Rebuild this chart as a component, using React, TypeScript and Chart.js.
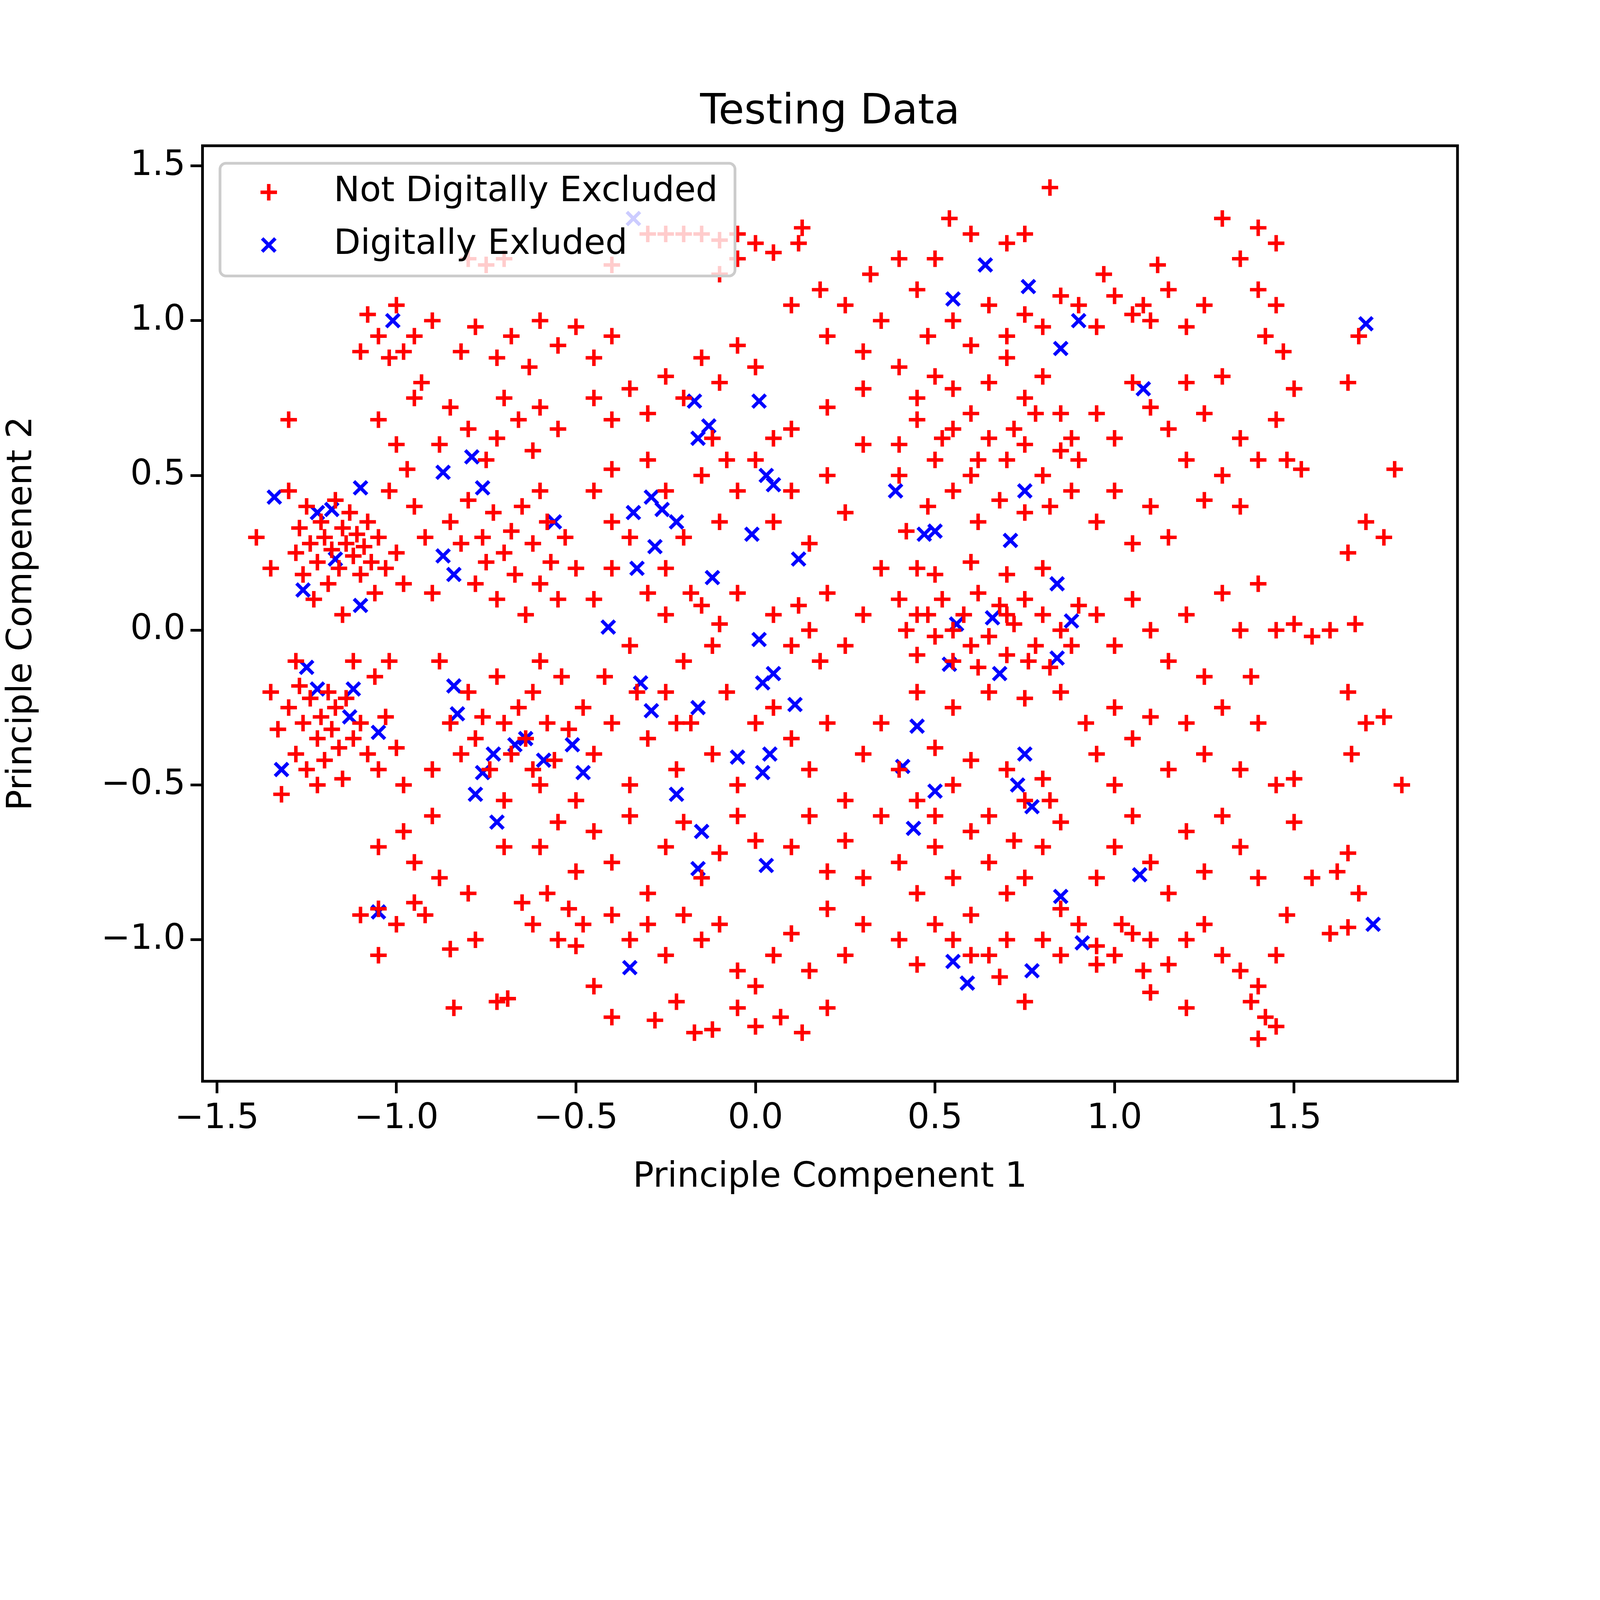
import { useEffect, useRef } from "react"
import { Chart, registerables } from "chart.js"

Chart.register(...registerables)

// Principal component coordinates
const notExcluded: [number, number][] = [
  [-1.39, 0.3], [-1.35, 0.2], [-1.3, 0.68], [-1.3, 0.45], [-1.28, 0.25], [-1.27, 0.33], [-1.26, 0.18], [-1.25, 0.4], [-1.24, 0.28], [-1.22, 0.22],
  [-1.21, 0.35], [-1.2, 0.3], [-1.19, 0.15], [-1.18, 0.26], [-1.17, 0.42], [-1.16, 0.2], [-1.15, 0.33], [-1.14, 0.28], [-1.13, 0.38], [-1.12, 0.24],
  [-1.11, 0.31], [-1.1, 0.18], [-1.09, 0.27], [-1.08, 0.35], [-1.07, 0.22], [-1.06, 0.12], [-1.05, 0.3], [-1.03, 0.2], [-1.0, 0.25], [-0.98, 0.15],
  [-1.35, -0.2], [-1.33, -0.32], [-1.3, -0.25], [-1.28, -0.4], [-1.27, -0.18], [-1.26, -0.3], [-1.25, -0.45], [-1.24, -0.22], [-1.22, -0.35], [-1.21, -0.28],
  [-1.2, -0.42], [-1.19, -0.2], [-1.18, -0.32], [-1.17, -0.25], [-1.16, -0.38], [-1.15, -0.48], [-1.14, -0.22], [-1.12, -0.35], [-1.1, -0.3], [-1.08, -0.4],
  [-1.06, -0.15], [-1.05, -0.45], [-1.03, -0.28], [-1.02, -0.1], [-1.0, -0.38], [-0.98, -0.5], [-1.32, -0.53], [-1.28, -0.1], [-1.22, -0.5], [-1.12, -0.1],
  [-1.08, 1.02], [-1.05, 0.95], [-1.02, 0.88], [-1.0, 1.05], [-0.98, 0.9], [-0.95, 0.95], [-1.1, 0.9], [-0.93, 0.8], [-0.9, 1.0], [-0.95, 0.75],
  [-1.05, 0.68], [-1.0, 0.6], [-0.97, 0.52], [-1.02, 0.45], [-0.95, 0.4], [-1.05, -0.9], [-1.0, -0.95], [-0.95, -0.88], [-0.92, -0.92], [-1.1, -0.92],
  [-1.05, -1.05], [-0.98, -0.65], [-0.95, -0.75], [-1.05, -0.7], [-0.9, -0.6], [-0.88, -0.8], [-0.85, -1.03], [-0.84, -1.22], [-0.8, -0.85], [-0.9, -0.45],
  [-0.85, 0.35], [-0.82, 0.28], [-0.8, 0.42], [-0.78, 0.15], [-0.76, 0.3], [-0.75, 0.22], [-0.73, 0.38], [-0.72, 0.1], [-0.7, 0.25], [-0.68, 0.32],
  [-0.67, 0.18], [-0.65, 0.4], [-0.64, 0.05], [-0.62, 0.28], [-0.6, 0.15], [-0.58, 0.35], [-0.57, 0.22], [-0.55, 0.1], [-0.53, 0.3], [-0.5, 0.2],
  [-0.85, -0.3], [-0.82, -0.4], [-0.8, -0.2], [-0.78, -0.35], [-0.76, -0.28], [-0.74, -0.45], [-0.72, -0.15], [-0.7, -0.3], [-0.68, -0.4], [-0.66, -0.25],
  [-0.64, -0.35], [-0.62, -0.2], [-0.6, -0.5], [-0.58, -0.3], [-0.56, -0.42], [-0.54, -0.15], [-0.52, -0.32], [-0.5, -0.55], [-0.48, -0.25], [-0.45, -0.4],
  [-0.88, 0.6], [-0.85, 0.72], [-0.8, 0.65], [-0.75, 0.55], [-0.72, 0.62], [-0.7, 0.75], [-0.66, 0.68], [-0.62, 0.58], [-0.6, 0.72], [-0.55, 0.65],
  [-0.82, 0.9], [-0.78, 0.98], [-0.72, 0.88], [-0.68, 0.95], [-0.63, 0.85], [-0.6, 1.0], [-0.55, 0.92], [-0.5, 0.98], [-0.45, 0.88], [-0.4, 0.95],
  [-0.8, 1.2], [-0.75, 1.18], [-0.7, 1.2], [-0.4, 1.18], [-0.3, 1.28], [-0.25, 1.28], [-0.2, 1.28], [-0.15, 1.28], [-0.1, 1.26], [-0.05, 1.2],
  [-0.05, 1.28], [0.0, 1.25], [0.05, 1.22], [0.12, 1.25], [0.13, 1.3], [-0.1, 1.15],
  [-0.45, 0.75], [-0.4, 0.68], [-0.35, 0.78], [-0.3, 0.7], [-0.25, 0.82], [-0.2, 0.75], [-0.15, 0.88], [-0.1, 0.8], [-0.05, 0.92], [0.0, 0.85],
  [-0.45, 0.45], [-0.4, 0.52], [-0.35, 0.3], [-0.3, 0.55], [-0.25, 0.45], [-0.2, 0.3], [-0.15, 0.5], [-0.1, 0.35], [-0.05, 0.45], [0.0, 0.55],
  [-0.45, 0.1], [-0.4, 0.2], [-0.35, -0.05], [-0.3, 0.12], [-0.25, 0.05], [-0.2, -0.1], [-0.15, 0.08], [-0.12, -0.05], [-0.1, 0.02], [-0.05, 0.12],
  [-0.4, -0.3], [-0.35, -0.5], [-0.3, -0.35], [-0.25, -0.2], [-0.22, -0.45], [-0.18, -0.3], [-0.12, -0.4], [-0.08, -0.2], [-0.05, -0.5], [0.0, -0.3],
  [-0.45, -0.65], [-0.4, -0.75], [-0.35, -0.6], [-0.3, -0.85], [-0.25, -0.7], [-0.2, -0.62], [-0.15, -0.8], [-0.1, -0.72], [-0.05, -0.6], [0.0, -0.68],
  [-0.6, -0.7], [-0.58, -0.85], [-0.55, -0.62], [-0.52, -0.9], [-0.5, -0.78], [-0.65, -0.88], [-0.7, -0.7], [-0.62, -0.95], [-0.55, -1.0], [-0.48, -0.95],
  [-0.4, -0.92], [-0.35, -1.0], [-0.3, -0.95], [-0.25, -1.05], [-0.2, -0.92], [-0.15, -1.0], [-0.1, -0.95], [-0.05, -1.1], [0.0, -1.15], [0.05, -1.05],
  [-0.45, -1.15], [-0.4, -1.25], [-0.28, -1.26], [-0.22, -1.2], [-0.17, -1.3], [-0.12, -1.29], [-0.05, -1.22], [0.0, -1.28], [0.07, -1.25], [0.13, -1.3],
  [-0.72, -1.2], [-0.69, -1.19], [-0.5, -1.02], [-0.78, -1.0], [0.2, -1.22], [0.15, -1.1], [0.1, -0.98], [0.2, -0.9], [0.25, -1.05], [0.3, -0.95],
  [0.05, 0.35], [0.1, 0.45], [0.15, 0.28], [0.2, 0.5], [0.25, 0.38], [0.3, 0.6], [0.1, 0.65], [0.2, 0.72], [0.05, 0.05], [0.1, -0.05],
  [0.12, 0.08], [0.15, 0.0], [0.18, -0.1], [0.2, 0.12], [0.25, -0.05], [0.3, 0.05], [0.05, -0.25], [0.1, -0.35], [0.15, -0.45], [0.2, -0.3],
  [0.25, -0.55], [0.3, -0.4], [0.1, -0.7], [0.15, -0.6], [0.2, -0.78], [0.25, -0.68], [0.3, -0.8], [0.35, -0.6], [0.35, -0.3], [0.35, 0.2],
  [0.1, 1.05], [0.18, 1.1], [0.2, 0.95], [0.25, 1.05], [0.3, 0.9], [0.35, 1.0], [0.32, 1.15], [0.4, 1.2], [0.45, 1.1], [0.5, 1.2],
  [0.54, 1.33], [0.6, 1.28], [0.7, 1.25], [0.75, 1.28], [0.82, 1.43], [0.55, 1.0], [0.6, 0.92], [0.65, 1.05], [0.7, 0.95], [0.75, 1.02],
  [0.8, 0.98], [0.85, 1.08], [0.9, 1.05], [0.95, 0.98], [1.0, 1.08], [1.05, 1.02], [1.1, 1.0], [1.15, 1.1], [1.2, 0.98], [1.25, 1.05],
  [0.4, 0.85], [0.45, 0.75], [0.5, 0.82], [0.55, 0.78], [0.6, 0.7], [0.65, 0.8], [0.7, 0.88], [0.75, 0.75], [0.8, 0.82], [0.85, 0.7],
  [0.4, 0.6], [0.45, 0.68], [0.5, 0.55], [0.55, 0.65], [0.6, 0.5], [0.65, 0.62], [0.7, 0.55], [0.75, 0.6], [0.8, 0.5], [0.85, 0.58],
  [0.88, 0.45], [0.82, 0.4], [0.75, 0.38], [0.68, 0.42], [0.62, 0.35], [0.55, 0.45], [0.48, 0.4], [0.42, 0.32], [0.4, 0.5], [0.9, 0.55],
  [0.4, 0.1], [0.42, 0.0], [0.45, -0.08], [0.48, 0.05], [0.5, -0.02], [0.52, 0.1], [0.55, -0.1], [0.58, 0.05], [0.6, -0.05], [0.62, 0.12],
  [0.65, -0.02], [0.68, 0.08], [0.7, -0.08], [0.72, 0.02], [0.75, 0.1], [0.78, -0.05], [0.8, 0.05], [0.82, -0.12], [0.85, 0.0], [0.9, 0.08],
  [0.45, 0.2], [0.5, 0.18], [0.6, 0.22], [0.7, 0.18], [0.8, 0.2], [0.45, -0.2], [0.55, -0.25], [0.65, -0.2], [0.75, -0.22], [0.85, -0.2],
  [0.4, -0.45], [0.45, -0.55], [0.5, -0.38], [0.55, -0.5], [0.6, -0.42], [0.65, -0.6], [0.7, -0.45], [0.75, -0.55], [0.8, -0.48], [0.85, -0.62],
  [0.4, -0.75], [0.45, -0.85], [0.5, -0.7], [0.55, -0.8], [0.6, -0.92], [0.65, -0.75], [0.7, -0.85], [0.75, -0.8], [0.8, -0.7], [0.85, -0.9],
  [0.4, -1.0], [0.45, -1.08], [0.5, -0.95], [0.55, -1.0], [0.65, -1.05], [0.7, -1.0], [0.75, -1.2], [0.8, -1.0], [0.85, -1.05], [0.9, -0.95],
  [0.95, -1.02], [1.0, -1.05], [1.05, -0.98], [1.1, -1.0], [1.15, -1.08], [1.2, -1.0], [1.25, -0.95], [1.3, -1.05], [1.35, -1.1], [1.4, -1.15],
  [1.42, -1.25], [1.45, -1.28], [1.4, -1.32], [1.38, -1.2], [1.45, -1.05], [1.48, -0.92], [1.2, -1.22], [1.1, -1.17], [1.6, -0.98], [1.65, -0.96],
  [0.95, -0.8], [1.0, -0.7], [1.05, -0.6], [1.1, -0.75], [1.15, -0.85], [1.2, -0.65], [1.25, -0.78], [1.3, -0.6], [1.35, -0.7], [1.4, -0.8],
  [0.95, -0.4], [1.0, -0.5], [1.05, -0.35], [1.1, -0.28], [1.15, -0.45], [1.2, -0.3], [1.25, -0.4], [1.3, -0.25], [1.35, -0.45], [1.4, -0.3],
  [0.95, 0.05], [1.0, -0.05], [1.05, 0.1], [1.1, 0.0], [1.15, -0.1], [1.2, 0.05], [1.25, -0.15], [1.3, 0.12], [1.35, 0.0], [1.38, -0.15],
  [0.95, 0.35], [1.0, 0.45], [1.05, 0.28], [1.1, 0.4], [1.15, 0.3], [1.2, 0.55], [1.25, 0.42], [1.3, 0.5], [1.35, 0.4], [1.4, 0.55],
  [0.95, 0.7], [1.0, 0.62], [1.05, 0.8], [1.1, 0.72], [1.15, 0.65], [1.2, 0.8], [1.25, 0.7], [1.3, 0.82], [1.35, 0.62], [1.45, 0.68],
  [1.3, 1.33], [1.35, 1.2], [1.4, 1.3], [1.45, 1.25], [1.4, 1.1], [1.45, 1.05], [1.42, 0.95], [1.47, 0.9], [1.5, 0.78], [1.48, 0.55],
  [1.52, 0.52], [1.4, 0.15], [1.45, 0.0], [1.5, 0.02], [1.55, -0.02], [1.6, 0.0], [1.67, 0.02], [1.45, -0.5], [1.5, -0.48], [1.65, -0.2],
  [1.66, -0.4], [1.7, -0.3], [1.75, -0.28], [1.8, -0.5], [1.78, 0.52], [1.75, 0.3], [1.7, 0.35], [1.65, 0.25], [1.65, 0.8], [1.68, 0.95],
  [1.65, -0.72], [1.68, -0.85], [1.62, -0.78], [1.5, -0.62], [1.55, -0.8], [1.0, -0.25], [0.92, -0.3], [1.12, 1.18], [1.08, 1.05], [0.97, 1.15],
  [-1.23, 0.1], [-1.15, 0.05], [-0.9, 0.12], [-0.88, -0.1], [-0.92, 0.3], [-0.6, 0.45], [-0.4, 0.35], [-0.33, -0.2], [-0.6, -0.1], [-0.42, -0.15],
  [-0.12, 0.62], [-0.08, 0.55], [0.05, 0.62], [0.3, 0.78], [0.48, 0.95], [0.62, 0.55], [0.72, 0.65], [0.78, 0.7], [0.88, 0.62], [0.52, 0.62],
  [0.45, 0.05], [0.55, 0.0], [0.62, -0.12], [0.7, 0.05], [0.76, -0.1], [0.88, -0.05], [0.5, -0.6], [0.6, -0.65], [0.72, -0.68], [0.82, -0.55],
  [0.6, -1.05], [0.68, -1.12], [0.95, -1.08], [1.02, -0.95], [1.08, -1.1], [-0.25, 0.2], [-0.18, 0.12], [-0.22, -0.3], [-0.62, -0.45], [-0.7, -0.55],
]

const digitallyExcluded: [number, number][] = [
  [-0.34, 1.33], [-1.01, 1.0], [0.64, 1.18], [0.55, 1.07], [0.76, 1.11], [0.9, 1.0], [0.85, 0.91], [1.7, 0.99], [1.08, 0.78], [-0.17, 0.74],
  [0.01, 0.74], [-0.13, 0.66], [-0.16, 0.62], [0.03, 0.5], [0.05, 0.47], [-1.34, 0.43], [-1.1, 0.46], [-0.79, 0.56], [-0.87, 0.51], [-0.76, 0.46],
  [-1.22, 0.38], [-1.18, 0.39], [-0.29, 0.43], [-0.34, 0.38], [-0.26, 0.39], [-0.22, 0.35], [-0.56, 0.35], [-0.28, 0.27], [0.39, 0.45], [0.75, 0.45],
  [0.47, 0.31], [0.5, 0.32], [0.71, 0.29], [-0.01, 0.31], [0.12, 0.23], [-0.87, 0.24], [-0.84, 0.18], [-0.12, 0.17], [-0.33, 0.2], [-1.26, 0.13],
  [-1.17, 0.23], [-1.1, 0.08], [-0.41, 0.01], [0.56, 0.02], [0.66, 0.04], [0.88, 0.03], [0.84, 0.15], [0.01, -0.03], [0.84, -0.09], [0.54, -0.11],
  [0.68, -0.14], [-1.25, -0.12], [-1.12, -0.19], [-0.84, -0.18], [-0.32, -0.17], [0.05, -0.14], [0.02, -0.17], [-1.22, -0.19], [-0.83, -0.27], [-1.13, -0.28],
  [-0.29, -0.26], [-0.16, -0.25], [0.11, -0.24], [0.45, -0.31], [-1.05, -0.33], [-0.67, -0.37], [-0.64, -0.35], [-0.73, -0.4], [-0.59, -0.42], [-0.51, -0.37],
  [-0.48, -0.46], [-0.05, -0.41], [0.04, -0.4], [0.02, -0.46], [-0.76, -0.46], [-0.78, -0.53], [-1.32, -0.45], [0.41, -0.44], [0.5, -0.52], [0.75, -0.4],
  [0.73, -0.5], [0.77, -0.57], [-0.22, -0.53], [-0.72, -0.62], [-0.15, -0.65], [0.44, -0.64], [-0.16, -0.77], [0.03, -0.76], [1.07, -0.79], [0.85, -0.86],
  [-1.05, -0.91], [1.72, -0.95], [0.91, -1.01], [-0.35, -1.09], [0.55, -1.07], [0.59, -1.14], [0.77, -1.1],
]

const xTicks = [-1.5, -1.0, -0.5, 0.0, 0.5, 1.0, 1.5]
const yTicks = [-1.0, -0.5, 0.0, 0.5, 1.0, 1.5]

const fmt = (v: number) => v.toFixed(1).replace("-", "\u2212")
const FONT = "'DejaVu Sans', sans-serif"

export default function App() {
  const ref = useRef<HTMLCanvasElement>(null)
  const W = window.innerWidth
  const H = window.innerHeight
  const s = Math.min(W / 6400, H / 4800)

  useEffect(() => {
    document.body.style.margin = "0"
    document.body.style.overflow = "hidden"
    if (!ref.current) return

    const frame = {
      id: "frame",
      afterDraw(chart: Chart) {
        const { ctx, chartArea: a } = chart
        ctx.save()
        ctx.strokeStyle = "#000"
        ctx.lineWidth = 11 * s
        ctx.strokeRect(a.left, a.top, a.right - a.left, a.bottom - a.top)
        ctx.fillStyle = "#000"
        ctx.font = `${167 * s}px ${FONT}`
        ctx.textAlign = "center"
        ctx.textBaseline = "alphabetic"
        ctx.fillText("Testing Data", (a.left + a.right) / 2, a.top - 90 * s)
        // legend box
        const lx = 880 * s, ly = 653 * s, lw = 2060 * s, lh = 451 * s
        ctx.fillStyle = "rgba(255,255,255,0.8)"
        ctx.strokeStyle = "#cccccc"
        ctx.lineWidth = 11 * s
        ctx.beginPath()
        ctx.roundRect(lx, ly, lw, lh, 24 * s)
        ctx.fill()
        ctx.stroke()
        const rows: [string, string, boolean][] = [
          ["Not Digitally Excluded", "#ff0000", false],
          ["Digitally Exluded", "#0000ff", true],
        ]
        rows.forEach(([label, color, rot], i) => {
          const cy = (769 + i * 211) * s
          const cx = 1075 * s
          const r = 33 * s
          ctx.strokeStyle = color
          ctx.lineWidth = 14 * s
          ctx.beginPath()
          if (rot) {
            const d = r * 0.8
            ctx.moveTo(cx - d, cy - d); ctx.lineTo(cx + d, cy + d)
            ctx.moveTo(cx + d, cy - d); ctx.lineTo(cx - d, cy + d)
          } else {
            ctx.moveTo(cx - r, cy); ctx.lineTo(cx + r, cy)
            ctx.moveTo(cx, cy - r); ctx.lineTo(cx, cy + r)
          }
          ctx.stroke()
          ctx.fillStyle = "#000"
          ctx.font = `${139 * s}px ${FONT}`
          ctx.textAlign = "left"
          ctx.textBaseline = "middle"
          ctx.fillText(label, 1335 * s, cy)
        })
        ctx.restore()
      },
    }

    const tickFont = { size: 139 * s, family: FONT }
    const chart = new Chart(ref.current, {
      type: "scatter",
      data: {
        datasets: [
          {
            label: "Not Digitally Excluded",
            data: notExcluded.map(([x, y]) => ({ x, y })),
            pointStyle: "cross",
            radius: 33 * s,
            borderColor: "#ff0000",
            backgroundColor: "#ff0000",
            borderWidth: 14 * s,
          },
          {
            label: "Digitally Exluded",
            data: digitallyExcluded.map(([x, y]) => ({ x, y })),
            pointStyle: "crossRot",
            radius: 37 * s,
            borderColor: "#0000ff",
            backgroundColor: "#0000ff",
            borderWidth: 14 * s,
          },
        ],
      },
      options: {
        animation: false,
        responsive: false,
        layout: { padding: { top: 583 * s, right: 570 * s, left: 0, bottom: 0 } },
        plugins: { legend: { display: false }, tooltip: { enabled: false } },
        scales: {
          x: {
            type: "linear",
            min: -1.54,
            max: 1.955,
            afterBuildTicks: (axis: any) => { axis.ticks = xTicks.map((value) => ({ value })) },
            afterFit: (axis: any) => { axis.height = 475 * s },
            grid: { drawOnChartArea: false, tickLength: 48 * s, tickWidth: 11 * s, color: "#000" },
            border: { display: false },
            ticks: { color: "#000", font: tickFont, padding: 20 * s, maxRotation: 0, callback: (v: any) => fmt(Number(v)) },
            title: { display: true, text: "Principle Compenent 1", color: "#000", font: tickFont, padding: { top: 20 * s } },
          },
          y: {
            type: "linear",
            min: -1.457,
            max: 1.565,
            afterBuildTicks: (axis: any) => { axis.ticks = yTicks.map((value) => ({ value })) },
            afterFit: (axis: any) => { axis.width = 810 * s },
            grid: { drawOnChartArea: false, tickLength: 48 * s, tickWidth: 11 * s, color: "#000" },
            border: { display: false },
            ticks: { color: "#000", font: tickFont, padding: 20 * s, callback: (v: any) => fmt(Number(v)) },
            title: { display: true, text: "Principle Compenent 2", color: "#000", font: tickFont, padding: { bottom: 40 * s } },
          },
        },
      },
      plugins: [frame],
    })
    return () => chart.destroy()
  }, [s])

  return (
    <div style={{ width: 6400 * s, height: 4800 * s, background: "#fff" }}>
      <canvas ref={ref} width={6400 * s} height={4800 * s} style={{ width: 6400 * s, height: 4800 * s, display: "block" }} />
    </div>
  )
}
